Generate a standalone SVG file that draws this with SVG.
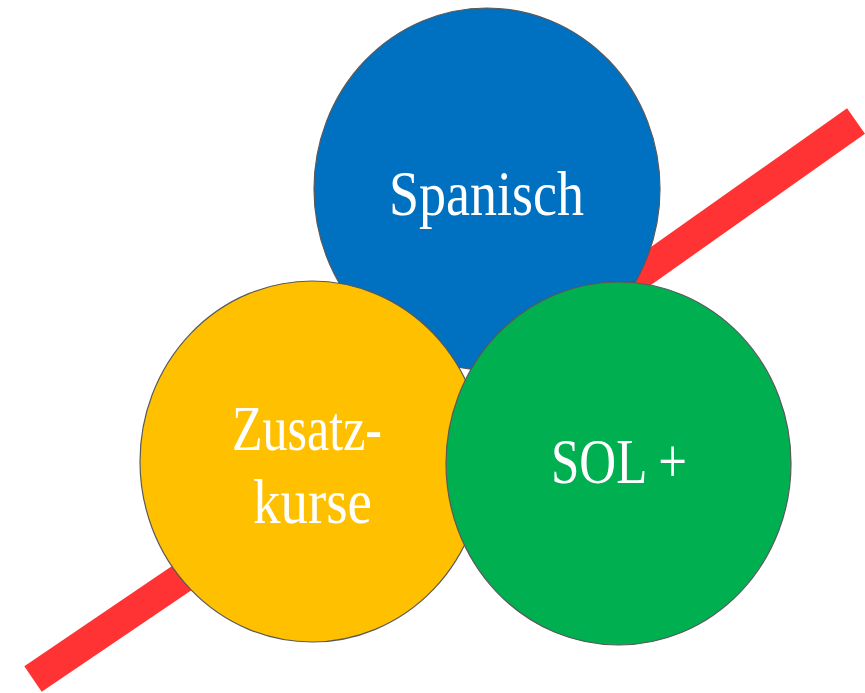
<svg xmlns="http://www.w3.org/2000/svg" width="865" height="693" viewBox="0 0 865 693">
<style>
  .c { stroke: #595959; stroke-width: 1.2; }
  .t { font-family: "Liberation Serif", "DejaVu Serif", serif; fill: #ffffff; font-size: 63px; }
  .bar { stroke: #FF3333; stroke-width: 31; stroke-linecap: butt; }
</style>
<rect width="865" height="693" fill="#ffffff"/>
<g id="bar">
  <line class="bar" x1="33" y1="679" x2="300" y2="498"/>
  <line class="bar" x1="600" y1="302" x2="856" y2="121"/>
</g>
<g id="spanisch">
  <ellipse class="c" cx="487" cy="189" rx="173" ry="181" fill="#0070C0"/>
  <text class="t" x="389" y="215" font-size="65" textLength="195" lengthAdjust="spacingAndGlyphs">Spanisch</text>
</g>
<g id="zusatzkurse">
  <ellipse class="c" cx="312" cy="461.5" rx="172" ry="180.5" fill="#FFC000"/>
  <text class="t" x="232" y="450" textLength="150" lengthAdjust="spacingAndGlyphs">Zusatz-</text>
  <text class="t" x="253" y="523" textLength="119" lengthAdjust="spacingAndGlyphs">kurse</text>
</g>
<g id="sol">
  <ellipse class="c" cx="618.5" cy="463.5" rx="172.5" ry="181.5" fill="#00B050"/>
  <text class="t" x="551" y="483" font-size="60" textLength="136" lengthAdjust="spacingAndGlyphs">SOL +</text>
</g>
</svg>
